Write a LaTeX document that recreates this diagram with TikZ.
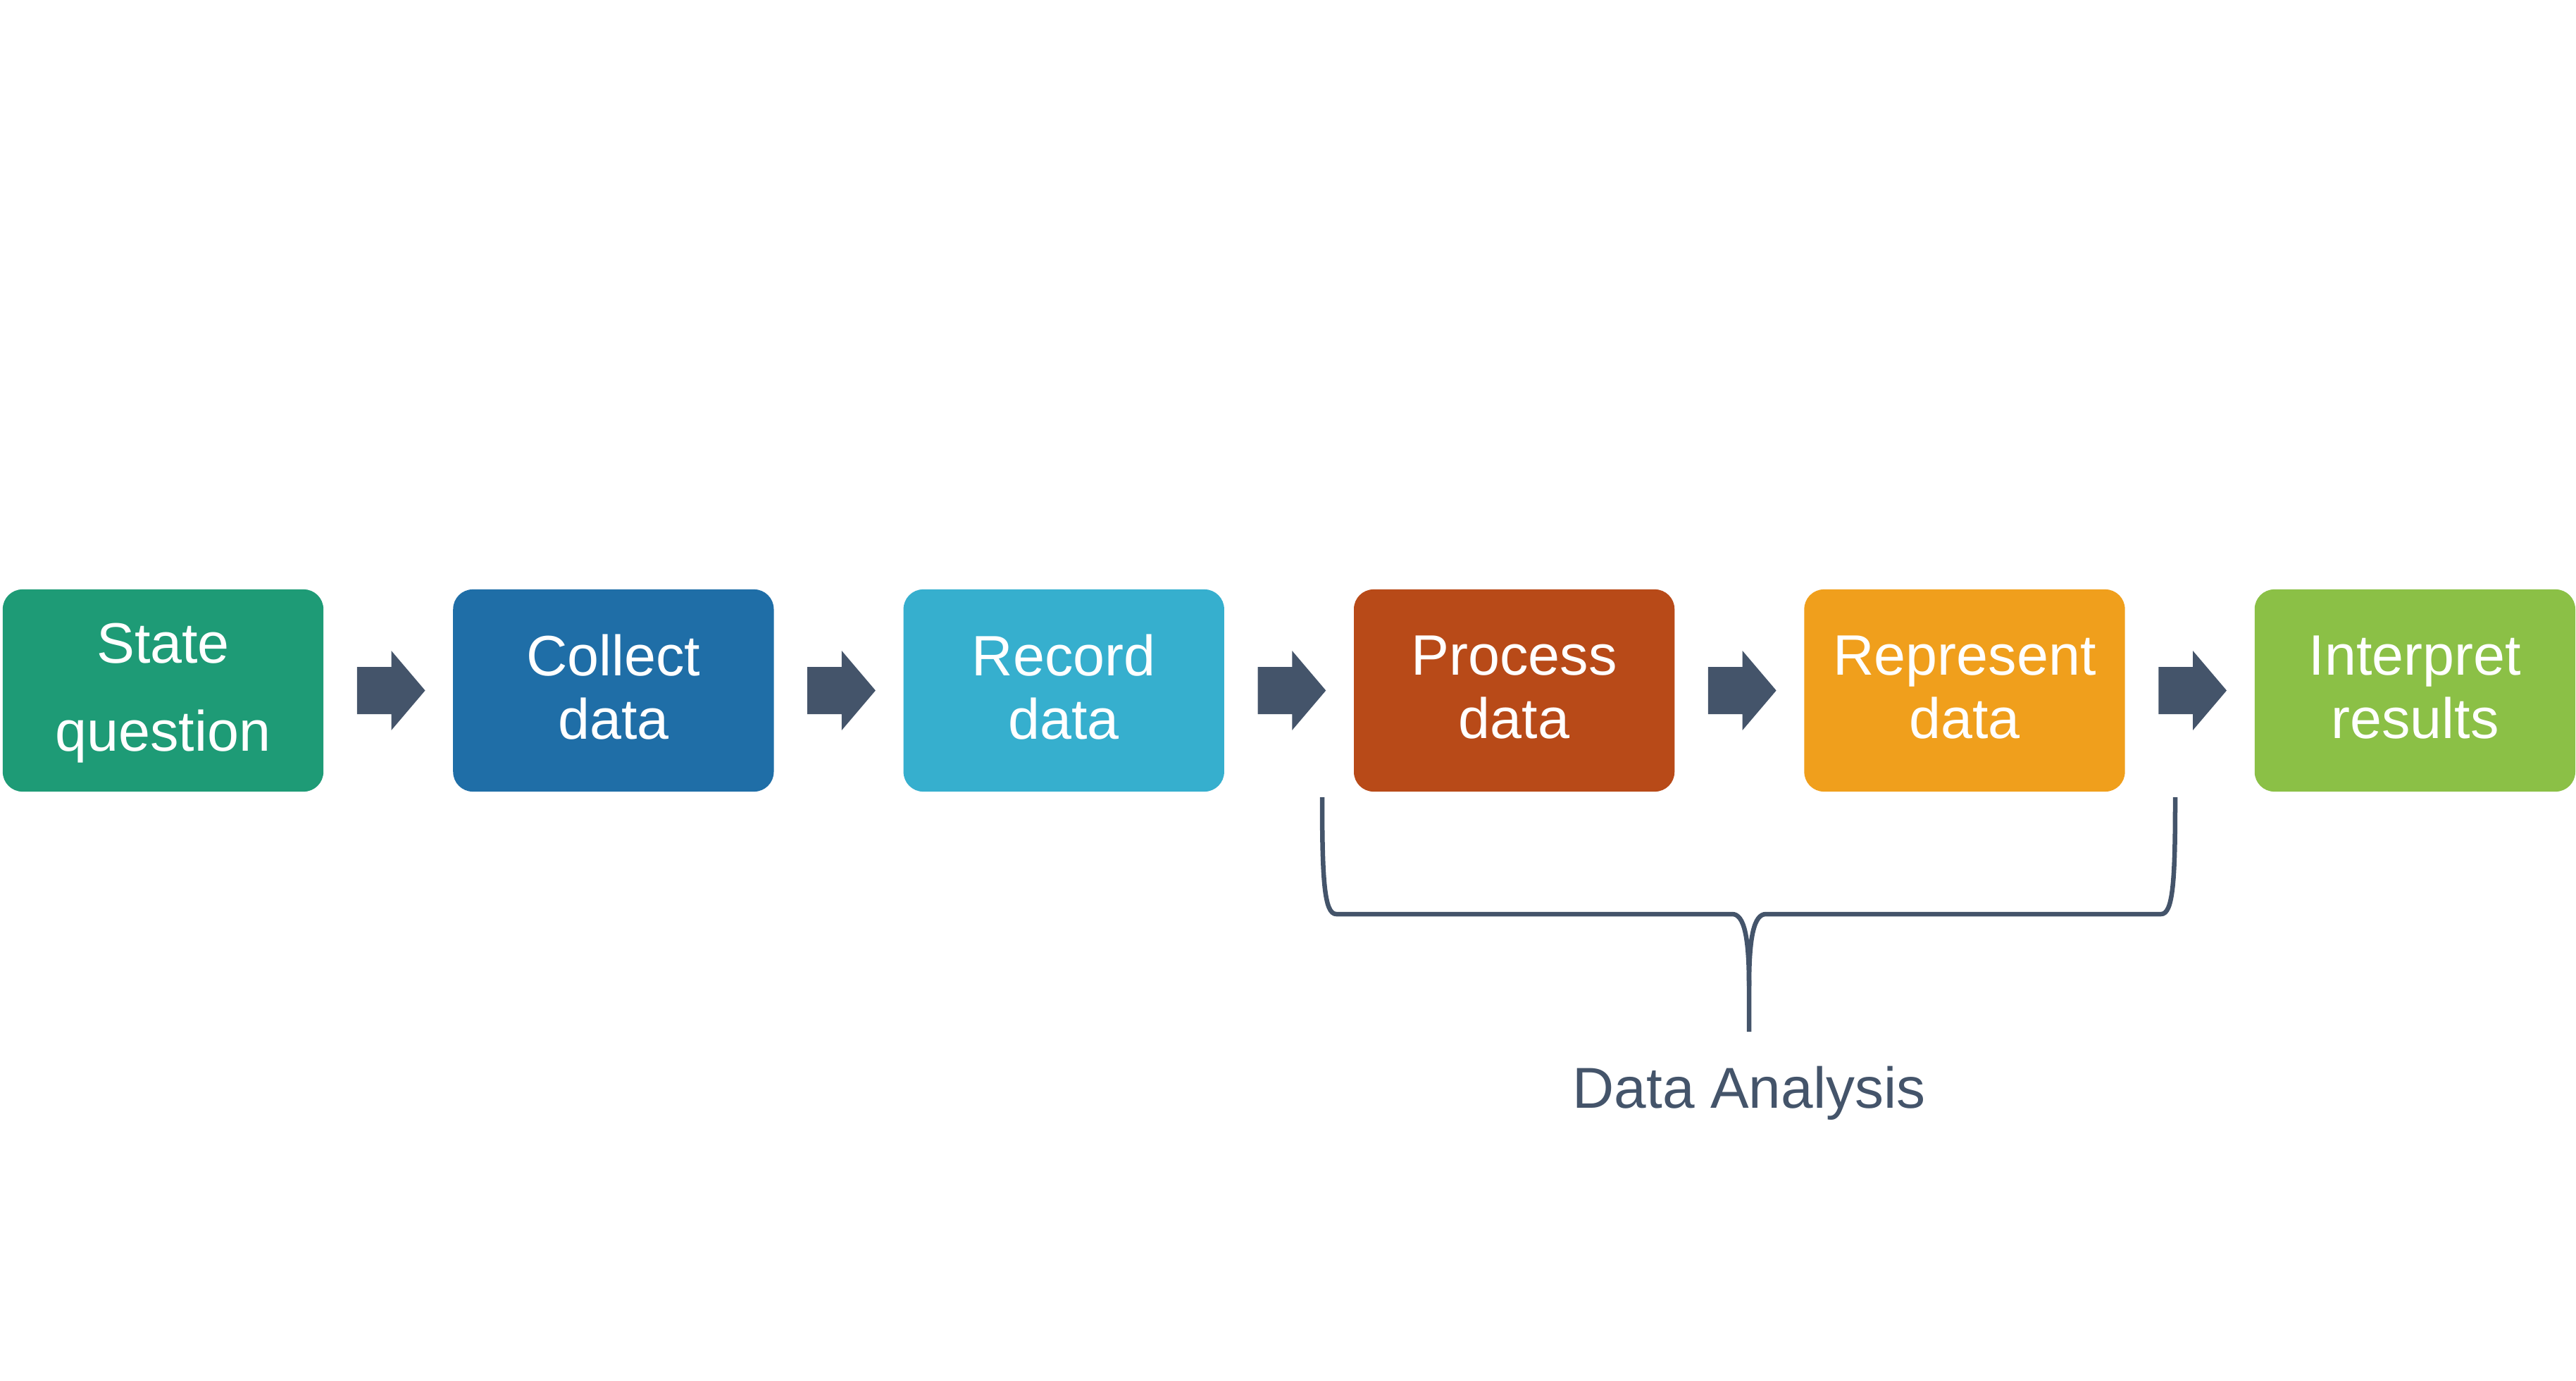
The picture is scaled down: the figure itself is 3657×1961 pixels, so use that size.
\documentclass[tikz,border=0pt]{standalone}
\usepackage{fontspec}
\setmainfont{Liberation Sans}
\usetikzlibrary{positioning}
\usetikzlibrary{calc}
\definecolor{stategreen}{RGB}{30,155,118}
\definecolor{collectblue}{RGB}{31,110,167}
\definecolor{recordcyan}{RGB}{54,175,206}
\definecolor{processrust}{RGB}{184,74,24}
\definecolor{representorange}{RGB}{240,159,28}
\definecolor{interpretlime}{RGB}{139,192,70}
\definecolor{slate}{RGB}{68,84,106}
\tikzset{x=0.01cm, y=-0.01cm, % one unit is one pixel of the reference, y runs down
node distance=6.39cm, % Centre to centre distance of two steps
stepbox/.style={ % Sets the properties for each step
rectangle,
rounded corners=0.28cm,
minimum width=4.55cm,
minimum height=2.87cm,
inner sep=0pt,
text depth=0.1cm,
text=white,
align=center,
font=\fontsize{23}{25.6}\selectfont},
flow/.style={fill=slate}, % Block arrow between two steps
brace/.style={draw=slate, line width=0.065cm, line join=round}}
% block arrow from the step #1 to the step #2
\newcommand{\flowarrow}[2]{%
\fill[flow] ($(#1.east)+(47,-33.5)$) -- ($(#2.west)+(-87,-33.5)$) -- ($(#2.west)+(-87,-56.5)$)
 -- ($(#2.west)+(-39,0)$) -- ($(#2.west)+(-87,56.5)$) -- ($(#2.west)+(-87,33.5)$)
 -- ($(#1.east)+(47,33.5)$) -- cycle;}
\begin{document}
\begin{tikzpicture}
				\useasboundingbox (0,0) rectangle (3657,1961);
				\node[stepbox, fill=stategreen, font=\fontsize{23}{35.6}\selectfont] (s1) at (231.5,980.5) {State\\question};
				\node[stepbox, fill=collectblue, right of=s1] (s2) {Collect\\data};
				\node[stepbox, fill=recordcyan, right of=s2] (s3) {Record\\data};
				\node[stepbox, fill=processrust, right of=s3] (s4) {Process\\data};
				\node[stepbox, fill=representorange, right of=s4] (s5) {Represent\\data};
				\node[stepbox, fill=interpretlime, right of=s5] (s6) {Interpret\\results};

				\flowarrow{s1}{s2}
				\flowarrow{s2}{s3}
				\flowarrow{s3}{s4}
				\flowarrow{s4}{s5}
				\flowarrow{s5}{s6}

				% brace under the analysis steps
				\coordinate (bl) at (1877,1132);
				\coordinate (br) at (3088,1132);
				\coordinate (tip) at (2483,1465);
				\draw[brace] (bl) .. controls (1877,1250) and (1880,1298) .. (1897,1298) -- (2459,1298)
					.. controls (2476,1298) and (2483,1330) .. (2483,1400) -- (tip);
				\draw[brace] (br) .. controls (3088,1250) and (3085,1298) .. (3068,1298) -- (2507,1298)
					.. controls (2490,1298) and (2483,1330) .. (2483,1400);
				\node[text=slate, font=\fontsize{23.3}{26}\selectfont, anchor=base] (analysis) at (2483,1573) {Data Analysis};
			\end{tikzpicture}
\end{document}
